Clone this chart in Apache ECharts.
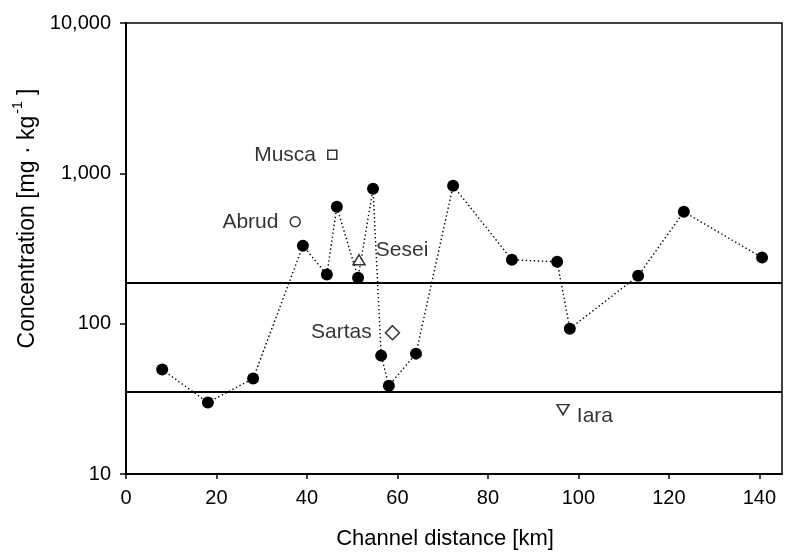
<!DOCTYPE html>
<html>
<head>
<meta charset="utf-8">
<script src="https://cdn.jsdelivr.net/npm/echarts@6/dist/echarts.min.js"></script>
<style>html,body{margin:0;padding:0;background:#fff}#c{width:790px;height:557px}</style>
</head>
<body>
<div id="c"></div>
<script>
// Main channel samples
var distanceKm = [8.0, 18.1, 28.1, 39.1, 44.4, 46.6, 51.3, 54.6, 56.4, 58.1, 64.1, 72.3, 85.3, 95.3, 98.1, 113.2, 123.3, 140.6];
var concentration = [49.5, 29.9, 43.1, 330, 212, 599, 202, 789, 61.3, 38.7, 63.2, 826, 266, 258, 92.6, 208, 555, 275];
// Tributaries
var tribNames = ['Musca', 'Abrud', 'Sesei', 'Sartas', 'Iara'];
var tribKm = [45.6, 37.4, 51.5, 58.9, 96.6];
var tribConc = [1327, 476, 266, 87.1, 26.8];
// Reference levels
var thresholds = [187, 35.3];
// Axis ticks
var yTicks = [10, 100, 1000, 10000];
var xTicks = [0, 20, 40, 60, 80, 100, 120, 140];

var FONT = "'Liberation Sans', Arial, Helvetica, sans-serif";
var chart = echarts.init(document.getElementById('c'));

var tribStyle = [
  {symbol: 'rect', size: 9, rotate: 0, pos: 'left', off: [-6, 0]},
  {symbol: 'circle', size: 10, rotate: 0, pos: 'left', off: [-6, 0]},
  {symbol: 'triangle', size: [12, 10], rotate: 0, pos: 'right', off: [5, -10]},
  {symbol: 'diamond', size: [14, 14], rotate: 0, pos: 'left', off: [-8, 0]},
  {symbol: 'triangle', size: [12, 10], rotate: 180, pos: 'right', off: [2, 7]}
];

var series = [{
  type: 'line',
  data: distanceKm.map(function (d, i) { return [d, concentration[i]]; }),
  symbol: 'circle',
  symbolSize: 12,
  itemStyle: {color: '#000'},
  lineStyle: {color: '#000', width: 1.4, type: [1.4, 2.6]},
  z: 5,
  markLine: {
    silent: true,
    symbol: ['none', 'none'],
    label: {show: false},
    lineStyle: {color: '#000', width: 2, type: 'solid'},
    data: thresholds.map(function (t) { return {yAxis: t}; })
  }
}];

tribNames.forEach(function (n, i) {
  var s = tribStyle[i];
  series.push({
    type: 'scatter',
    name: n,
    data: [[tribKm[i], tribConc[i]]],
    symbol: s.symbol,
    symbolSize: s.size,
    symbolRotate: s.rotate,
    itemStyle: {color: '#fff', borderColor: '#000', borderWidth: 1.5},
    z: 6,
    label: {
      show: true,
      formatter: n,
      position: s.pos,
      offset: s.off,
      color: '#000',
      fontSize: 21,
      fontFamily: FONT
    }
  });
});

chart.setOption({
  animation: false,
  backgroundColor: '#fff',
  grid: {left: 126, right: 8, top: 23, bottom: 83, show: true, borderColor: '#000', borderWidth: 1.5, backgroundColor: 'transparent'},
  xAxis: {
    type: 'value',
    min: 0, max: 145, interval: 20,
    name: 'Channel distance [km]',
    nameLocation: 'middle',
    nameGap: 54,
    nameTextStyle: {color: '#000', fontSize: 22, fontFamily: FONT, padding: [0, 18, 0, 0]},
    axisLine: {show: true, lineStyle: {color: '#000', width: 2}},
    axisTick: {show: true, length: 5, lineStyle: {color: '#000', width: 1.5},
      customValues: xTicks},
    axisLabel: {color: '#000', fontSize: 20, fontFamily: FONT, margin: 14,
      customValues: xTicks,
      formatter: function (v) { return xTicks.indexOf(v) >= 0 ? String(v) : ''; }},
    splitLine: {show: false}
  },
  yAxis: {
    type: 'log',
    logBase: 10,
    min: 10, max: 10000,
    name: '{a|Concentration [mg · kg}{s|-1}{a| ]}',
    nameLocation: 'middle',
    nameGap: 84,
    nameRotate: 90,
    nameTextStyle: {
      color: '#000', fontFamily: FONT, padding: [0, 0, 0, 60],
      rich: {
        a: {fontSize: 23, fontFamily: FONT, color: '#000', verticalAlign: 'bottom', lineHeight: 28},
        s: {fontSize: 14, fontFamily: FONT, color: '#000', verticalAlign: 'top', lineHeight: 28, padding: [0, 0, 0, 2]}
      }
    },
    axisLine: {show: true, lineStyle: {color: '#000', width: 2}},
    axisTick: {show: true, length: 6, lineStyle: {color: '#000', width: 1.5}},
    axisLabel: {color: '#000', fontSize: 20, fontFamily: FONT, margin: 15,
      formatter: function (v) { return yTicks.indexOf(Math.round(v)) >= 0 ? Math.round(v).toLocaleString('en-US') : ''; }},
    splitLine: {show: false},
    minorTick: {show: false}
  },
  series: series
});
</script>
</body>
</html>
